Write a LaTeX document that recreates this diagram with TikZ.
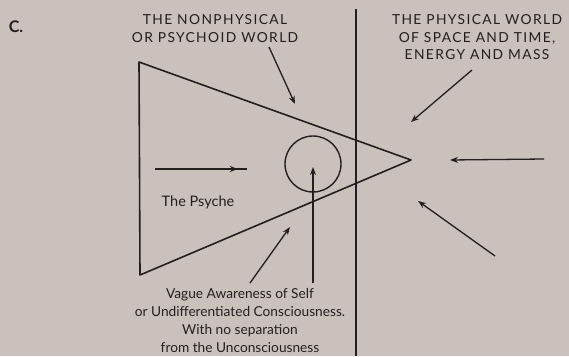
\documentclass[tikz,border=0pt]{standalone}
\usepackage{fontspec}
\setmainfont{Lato}
\usetikzlibrary{arrows.meta,decorations.markings}
\definecolor{paper}{RGB}{202,193,189}
\definecolor{ink}{RGB}{36,30,30}
\tikzset{psyarrow/.style={-{Stealth[open,length=8pt,width=6pt]}, ink, line width=1.3pt}}
\tikzset{capslbl/.style={ink, align=center, inner sep=0pt, font=\fontsize{13.8}{17.5}\selectfont\addfontfeature{LetterSpace=10}}}
\tikzset{txtlbl/.style={ink, align=center, inner sep=0pt, font=\fontsize{13.7}{18}\selectfont}}

\begin{document}
\begin{tikzpicture}[x=1pt, y=-1pt]
\fill[paper] (0,0) rectangle (569,356);
\useasboundingbox (0,0) rectangle (569,356);
\node[ink, font=\fontsize{16}{16}\selectfont\bfseries] (c) at (16,27) {C.};
\node[capslbl] (nonphys) at (215,28.5) {THE NONPHYSICAL\\OR PSYCHOID WORLD};
\node[capslbl] (phys) at (477,37.5) {THE PHYSICAL WORLD\\OF SPACE AND TIME,\\ENERGY AND MASS};
\node[txtlbl, font=\fontsize{14.5}{18}\selectfont] (psyche) at (198,202) {The Psyche};
\node[txtlbl] (vague) at (240,320.5) {Vague Awareness of Self\\or Undifferentiated Consciousness.\\With no separation\\from the Unconsciousness};
\coordinate (tl) at (139,62);
\coordinate (bl) at (140,275);
\coordinate (apex) at (411,160);
\coordinate (divtop) at (356,9);
\coordinate (divbot) at (356,356);
\draw[ink, line width=1.6pt, line join=round] (tl) -- (apex) -- (bl) -- cycle;
\draw[ink, line width=1.8pt] (divtop) -- (divbot);
\node[draw=ink, line width=1.4pt, circle, minimum size=56pt, inner sep=0pt] (self) at (313,164) {};
\coordinate (a1s) at (269,47);  \coordinate (a1e) at (295,104);
\coordinate (a2s) at (472,70);  \coordinate (a2e) at (411,122);
\coordinate (a3s) at (544,159); \coordinate (a3e) at (450,160);
\coordinate (a4s) at (495,256); \coordinate (a4e) at (418,201);
\coordinate (a5s) at (250,283); \coordinate (a5e) at (290,227);
\coordinate (a6s) at (313,283); \coordinate (a6e) at (313,167);
\coordinate (a7s) at (155,169); \coordinate (a7e) at (247,169);
\draw[psyarrow] (a1s) -- (a1e);
\draw[psyarrow] (a2s) -- (a2e);
\draw[psyarrow] (a3s) -- (a3e);
\draw[psyarrow] (a4s) -- (a4e);
\draw[psyarrow] (a5s) -- (a5e);
\draw[psyarrow] (a6s) -- (a6e);
\draw[ink, line width=1.3pt, postaction={decorate}, decoration={markings, mark=at position 0.9 with {\arrow{Stealth[open,length=8pt,width=6pt]}}}] (a7s) -- (a7e);
\end{tikzpicture}
\end{document}
